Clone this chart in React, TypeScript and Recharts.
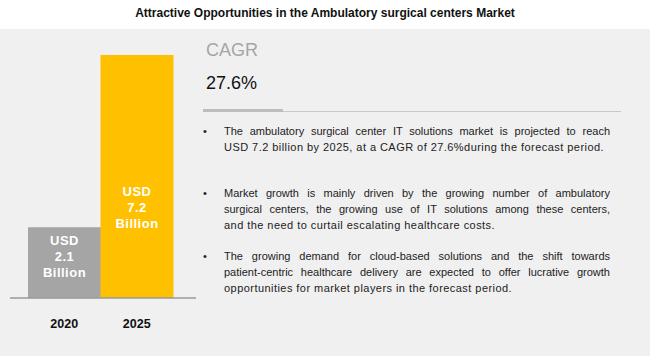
import { BarChart, Bar, XAxis, YAxis, Cell, LabelList } from "recharts";

const years = ["2020", "2025"];
const marketSize = [2.1, 7.2];
const cagr = "27.6%";
// bullet texts, split into the lines of the original layout
const bullets = [
  [
    "The ambulatory surgical center IT solutions market is projected to reach",
    "USD 7.2 billion by 2025, at a CAGR of 27.6%during the forecast period.",
  ],
  [
    "Market growth is mainly driven by the growing number of ambulatory",
    "surgical centers, the growing use of IT solutions among these centers,",
    "and the need to curtail escalating healthcare costs.",
  ],
  [
    "The growing demand for cloud-based solutions and the shift towards",
    "patient-centric healthcare delivery are expected to offer lucrative growth",
    "opportunities for market players in the forecast period.",
  ],
];

const barColors = ["#a5a5a5", "#ffc000"];
const narrow = "'Liberation Sans Narrow', 'Liberation Sans', Arial, sans-serif";
const sans = "'Liberation Sans', Arial, sans-serif";

const data = years.map((year, i) => ({ year, value: marketSize[i] }));

function ValueLabel(props: any) {
  const { x, y, width, height, value } = props;
  const cx = x + width / 2;
  // label sits near the top of short bars, lower down in tall ones
  const cy = Math.max(y + 29, y + height - 91);
  const lines = ["USD", String(value), "Billion"];
  return (
    <g>
      {lines.map((t, i) => (
        <text
          key={t}
          x={cx}
          y={cy + (i - 1) * 16}
          textAnchor="middle"
          dominantBaseline="central"
          fill="#fff"
          fontFamily={narrow}
          fontWeight="bold"
          fontSize={13}
          letterSpacing={0.5}
        >
          {t}
        </text>
      ))}
    </g>
  );
}

function YearTick(props: any) {
  const { x, y, payload } = props;
  return (
    <text
      x={x}
      y={y + 18}
      textAnchor="middle"
      dominantBaseline="central"
      fill="#111"
      fontFamily={sans}
      fontWeight="bold"
      fontSize={12.5}
    >
      {payload.value}
    </text>
  );
}

export default function App() {
  return (
    <div style={{ position: "absolute", left: 0, top: 0, width: 650, height: 356, background: "#fff", overflow: "hidden" }}>
      <div
        style={{
          position: "absolute", left: 0, top: 4, width: 650, textAlign: "center",
          fontFamily: narrow, fontWeight: "bold", fontSize: 12, color: "#111", lineHeight: "18px",
        }}
      >
        Attractive Opportunities in the Ambulatory surgical centers Market
      </div>
      <div style={{ position: "absolute", left: 0, top: 29, width: 650, height: 327, background: "#f0f0f0" }} />

      <div style={{ position: "absolute", left: 0, top: 0 }}>
        <BarChart
          width={210}
          height={356}
          data={data}
          margin={{ top: 55, right: 14, left: 10, bottom: 0 }}
          barCategoryGap={0}
        >
          <XAxis
            dataKey="year"
            height={58}
            padding={{ left: 18, right: 23 }}
            tickLine={false}
            axisLine={{ stroke: "#9a9a9a", strokeWidth: 1.5 }}
            tick={<YearTick />}
            interval={0}
          />
          <YAxis hide domain={[0, 7.2]} />
          <Bar dataKey="value" isAnimationActive={false}>
            {data.map((d, i) => (
              <Cell key={d.year} fill={barColors[i]} />
            ))}
            <LabelList dataKey="value" content={<ValueLabel />} />
          </Bar>
        </BarChart>
      </div>

      <div style={{ position: "absolute", left: 206, top: 39, fontFamily: narrow, fontSize: 18, color: "#a6a6a6", lineHeight: "22px" }}>
        CAGR
      </div>
      <div style={{ position: "absolute", left: 206, top: 72, fontFamily: narrow, fontSize: 18, color: "#111", lineHeight: "22px" }}>
        {cagr}
      </div>
      <div style={{ position: "absolute", left: 203, top: 109, width: 80, height: 3, background: "#bdbdbd" }} />
      <div style={{ position: "absolute", left: 283, top: 111, width: 338, height: 1, background: "#c8c8c8" }} />

      <div style={{ position: "absolute", left: 203, top: 123, width: 410, fontFamily: sans, fontSize: 11, color: "#222", lineHeight: "16px" }}>
        {bullets.map((lines, i) => (
          <div key={i} style={{ display: "flex", marginBottom: i === 0 ? 30 : 15 }}>
            <span style={{ width: 21, flex: "none" }}>•</span>
            <div style={{ width: 386 }}>
              {lines.map((line, j) => {
                const last = j === lines.length - 1;
                return (
                  <div
                    key={j}
                    style={{
                      textAlign: "justify",
                      textAlignLast: last ? "left" : "justify",
                      letterSpacing: last ? 0.45 : 0,
                      whiteSpace: "nowrap",
                    }}
                  >
                    {line}
                  </div>
                );
              })}
            </div>
          </div>
        ))}
      </div>
    </div>
  );
}
